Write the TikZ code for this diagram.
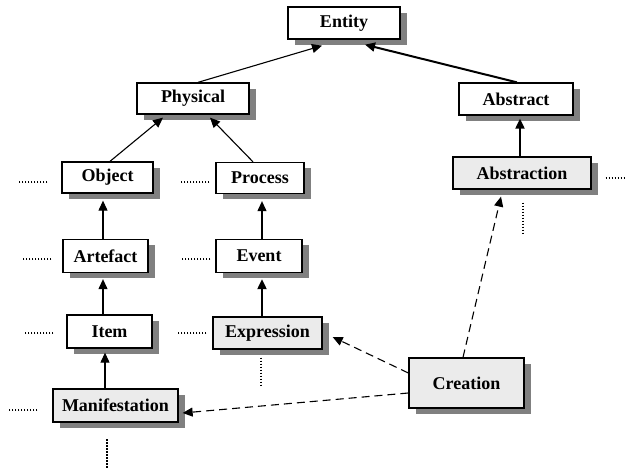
\documentclass[tikz,border=0pt]{standalone}
\usepackage{fontspec}
\setmainfont{Liberation Serif}
\usetikzlibrary{arrows.meta,shadows,calc}
\begin{document}
\begin{tikzpicture}[x=1pt,y=-1pt,
  box/.style={draw=black, line width=1.3pt, fill=white, minimum height=32pt, inner sep=0pt,
    font=\fontsize{18}{21}\selectfont\bfseries,
    drop shadow={shadow xshift=7pt, shadow yshift=-6pt, fill=black!50, opacity=1}},
  gbox/.style={box, fill=black!8},
  arr/.style={line width=1.1pt, -{Triangle[length=10pt,width=9pt]}},
  tarr/.style={arr, line width=2pt},
  darr/.style={arr, dash pattern=on 8pt off 5pt},
  dots/.style={line width=2.6pt, dash pattern=on 1.5pt off 1.5pt}
]
\fill[white] (0,0) rectangle (625,470);
\useasboundingbox (0,0) rectangle (625,470);

\node[box, minimum width=112pt] (entity) at (344,23) {Entity};
\node[box, minimum width=112pt, minimum height=31pt] (physical) at (193,98.5) {Physical};
\node[box, minimum width=114pt] (abstract) at (516,99) {Abstract};
\node[box, minimum width=91pt, minimum height=31pt] (object) at (107.5,177.5) {Object};
\node[box, minimum width=88pt, minimum height=31pt] (process) at (260,178) {Process};
\node[gbox, minimum width=138pt] (abstraction) at (522,173) {Abstraction};
\node[box, minimum width=85pt, minimum height=33pt] (artefact) at (105.5,256) {Artefact};
\node[box, minimum width=86pt, minimum height=33pt] (event) at (259,256) {Event};
\node[box, minimum width=85pt, minimum height=33pt] (item) at (109.5,331.5) {Item};
\node[gbox, minimum width=109pt] (expression) at (267.5,333) {Expression};
\node[gbox, minimum width=125pt, minimum height=33pt] (manifestation) at (115.5,405.5) {Manifestation};
\node[gbox, minimum width=115pt, minimum height=50pt] (creation) at (466.5,383) {Creation};

% hierarchy arrows
\draw[arr] ([xshift=5pt]physical.north) -- ([xshift=-22pt,yshift=-6pt]entity.south);
\draw[tarr] ([xshift=1pt]abstract.north) -- ([xshift=21pt,yshift=-5pt]entity.south);
\draw[arr] ([xshift=2.5pt]object.north) -- ([xshift=-30pt,yshift=-3pt]physical.south);
\draw[arr] ([xshift=-7pt]process.north) -- ([xshift=17pt,yshift=-3pt]physical.south);
\draw[tarr] ([xshift=-2pt]abstraction.north) -- ($([xshift=-2pt]abstraction.north |- abstract.south)+(0,3)$);
\draw[arr] ([xshift=-2.5pt]artefact.north) -- ($([xshift=-2.5pt]artefact.north |- object.south)+(0,7)$);
\draw[arr] ([xshift=3pt]event.north) -- ($([xshift=3pt]event.north |- process.south)+(0,7)$);
\draw[arr] ([xshift=-6.5pt]item.north) -- ($([xshift=-6.5pt]item.north |- artefact.south)+(0,6)$);
\draw[tarr] ([xshift=-5.5pt]expression.north) -- ($([xshift=-5.5pt]expression.north |- event.south)+(0,6)$);
\draw[arr] ([xshift=-10.5pt]manifestation.north) -- ($([xshift=-10.5pt]manifestation.north |- item.south)+(0,4)$);

% creation links
\draw[darr] ([yshift=10pt]creation.west) -- ([xshift=10pt,yshift=-4pt]expression.east);
\draw[darr] ([yshift=-10pt]creation.west) -- ([xshift=4pt,yshift=-7.5pt]manifestation.east);
\draw[darr] ([xshift=-3.5pt]creation.north) -- ([xshift=-21pt,yshift=-7pt]abstraction.south);

% continuation dots
\draw[dots] ([xshift=-14pt,yshift=-4.5pt]object.west) -- ++(-30,0);
\draw[dots] ([xshift=-6pt,yshift=-4pt]process.west) -- ++(-28,0);
\draw[dots] ([xshift=-11pt,yshift=-3pt]artefact.west) -- ++(-30,0);
\draw[dots] ([xshift=-5pt,yshift=-3pt]event.west) -- ++(-29,0);
\draw[dots] ([xshift=-13pt,yshift=-1.5pt]item.west) -- ++(-28,0);
\draw[dots] ([xshift=-6pt,yshift=0pt]expression.west) -- ++(-29,0);
\draw[dots] ([xshift=-15pt,yshift=-4.5pt]manifestation.west) -- ++(-30,0);
\draw[dots] ([xshift=14pt,yshift=-5pt]abstraction.east) -- ++(22,0);
\draw[dots] ([xshift=1pt,yshift=-13pt]abstraction.south) -- ++(0,31);
\draw[dots] ([xshift=-6.5pt,yshift=-8pt]expression.south) -- ++(0,30);
\draw[dots] ([xshift=-8.5pt,yshift=-16.5pt]manifestation.south) -- ++(0,30);
\end{tikzpicture}
\end{document}
